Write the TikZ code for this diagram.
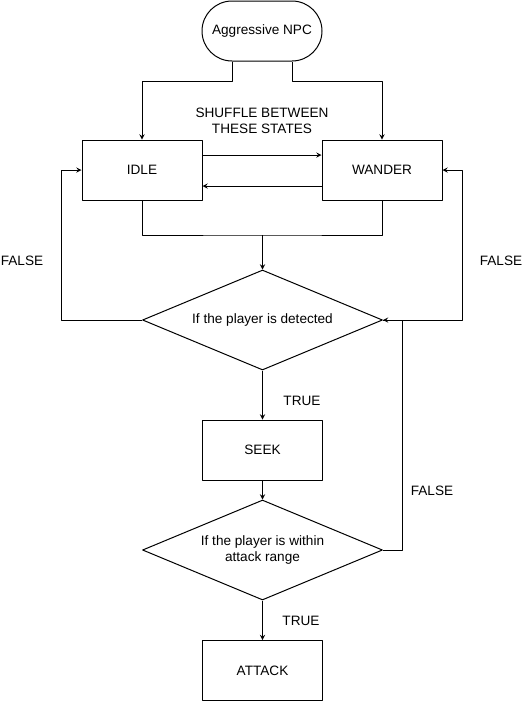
\documentclass[tikz,border=0pt]{standalone}
\usepackage{fontspec}
\setmainfont{Liberation Sans}
\usetikzlibrary{shapes.geometric}

\tikzset{
  state/.style={draw, minimum width=90pt, minimum height=45pt, inner sep=0pt},
  test/.style={draw, diamond, aspect=2.4, minimum width=180pt, minimum height=75pt, inner sep=0pt, align=center},
  terminal/.style={draw, rounded corners=22.5pt, minimum width=90pt, minimum height=45pt, inner sep=0pt},
  note/.style={align=center, inner sep=0pt},
}

\begin{document}
\begin{tikzpicture}[>=stealth,line join=round,x=0.75pt,y=-0.75pt,line width=0.75pt,
    font=\fontsize{10.2}{12}\selectfont]
  \useasboundingbox (0,0) rectangle (524,701);

  % states
  \node[terminal] (npc) at (262,31) {Aggressive NPC};
  \node[state] (idle) at (142,170) {IDLE};
  \node[state] (wander) at (382,170) {WANDER};
  \node[test] (detect) at (262.5,320) {If the player is detected};
  \node[state] (seek) at (262.5,450) {SEEK};
  \node[test] (range) at (262.5,550) {If the player is within\\attack range};
  \node[state] (attack) at (262.5,670.5) {ATTACK};

  % labels
  \node[note] (shuffle) at (262,121) {SHUFFLE BETWEEN\\THESE STATES};
  \node[note] (f1) at (22,261) {FALSE};
  \node[note] (f2) at (501,261) {FALSE};
  \node[note] (t1) at (302,401) {TRUE};
  \node[note] (f3) at (432,491) {FALSE};
  \node[note] (t2) at (301,621) {TRUE};

  % connections
  \draw[->] ([xshift=-22.5pt]npc.south) -- ++(0,20) -| (idle);
  \draw[->] ([xshift=22.5pt]npc.south) -- ++(0,20) -| (wander);
  \draw[->] ([yshift=11.25pt]idle.east) -- ([yshift=11.25pt]wander.west);
  \draw[->] ([yshift=-12pt]wander.west) -- ([yshift=-12pt]idle.east);
  \coordinate (join) at (262.5,235);
  \draw (idle.south) |- (join) -| (wander.south);
  \draw[->] (join) -- (detect);
  \draw[->] (detect.west) -- ++(-81,0) |- (idle.west);
  \draw[->] (detect.east) -- ++(79,0) |- (wander.east);
  \draw[->] (detect) -- (seek);
  \draw[->] (seek) -- (range);
  \draw[->] (range.east) -- ++(19,0) |- (detect.east);
  \draw[->] (range) -- (attack);
\end{tikzpicture}
\end{document}
